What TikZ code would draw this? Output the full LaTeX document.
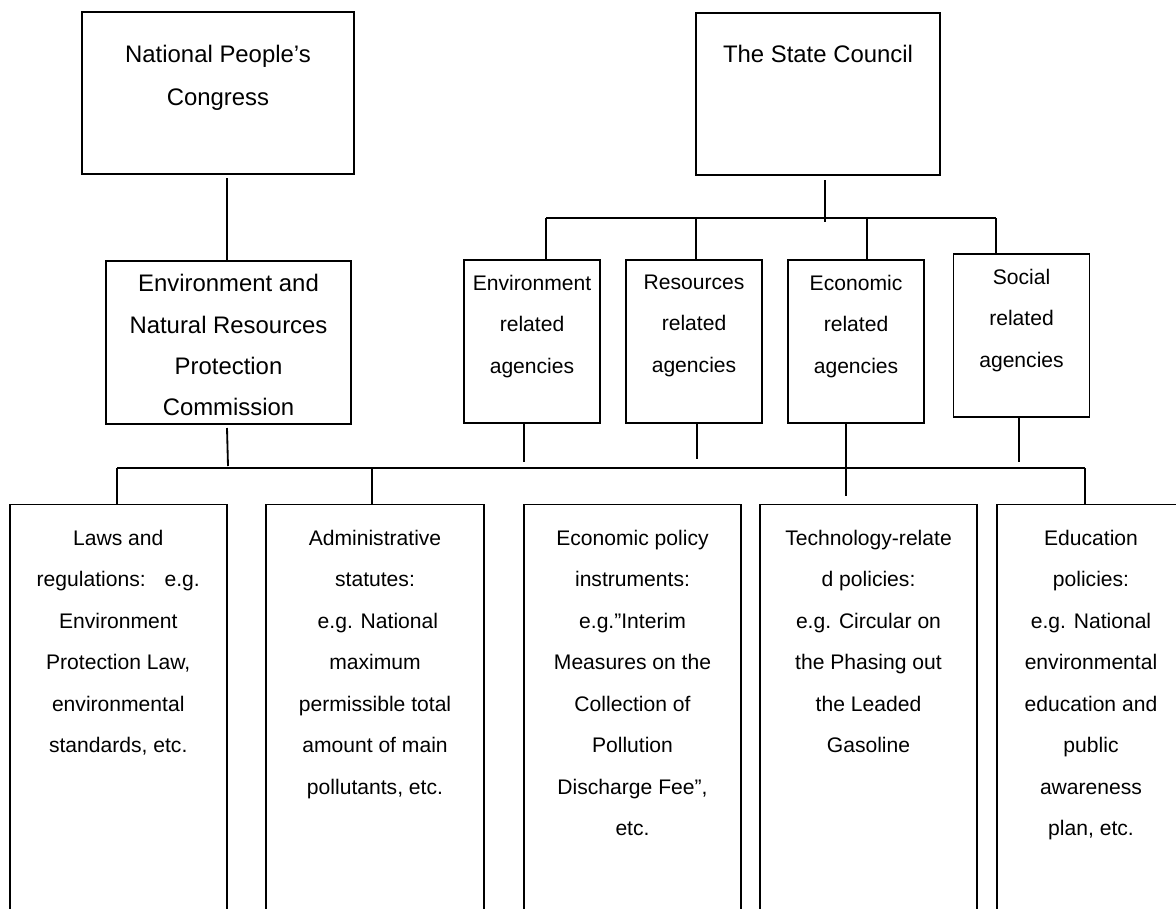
\documentclass[tikz,border=0pt]{standalone}
\usepackage{fontspec}
\setmainfont{Liberation Sans}
\usetikzlibrary{positioning}

\tikzset{
  box/.style={draw, line width=1.3pt, inner sep=0pt},
  agency/.style={box, minimum width=3.4cm, minimum height=4.075cm},
  policy/.style={box, minimum width=5.43cm, minimum height=10.9cm},
  txt/.style={align=center, inner sep=0pt, anchor=north},
  bigtxt/.style={txt, font=\fontsize{17pt}{30.5pt}\selectfont},
  smalltxt/.style={txt, font=\fontsize{15pt}{29.5pt}\selectfont},
}

\begin{document}
\begin{tikzpicture}[x=0.025cm,y=-0.025cm,line width=1.3pt]
  \useasboundingbox (0,0) rectangle (1176,908);
  \clip (0,0) rectangle (1176,908);

  % top level
  \node[box, minimum width=6.8cm, minimum height=4.05cm] (npc) at (218,93) {};
  \node[bigtxt] (npctext) at (218,44) {National People’s\\Congress};
  \node[box, minimum width=6.1cm, minimum height=4.05cm] (sc) at (818,94) {};
  \node[bigtxt] (sctext) at (818,44) {The State Council};

  % second level
  \node[box, minimum width=6.125cm, minimum height=4.075cm] (enr) at (228.5,342.5) {};
  \node[bigtxt, font=\fontsize{17pt}{29.4pt}\selectfont] (enrtext) at (228.5,273.5) {Environment and\\Natural Resources\\Protection\\Commission};
  \foreach \n/\x/\y/\t in {env/532/341.5/Environment, res/694/341.5/Resources,
                           eco/856/341.5/Economic, soc/1021.5/335.5/Social}{
    \node[agency] (\n) at (\x,\y) {};
    \node[smalltxt] (\n text) at (\x,\y-67.5) {\t\\related\\agencies};
  }

  % policy boxes
  \node[policy] (law) at (118.25,722.5) {};
  \node[smalltxt] (lawtext) at (118.25,529) {Laws and\\regulations:\hspace{0.9em}e.g.\\Environment\\Protection Law,\\environmental\\standards, etc.};
  \node[policy] (adm) at (375,722.5) {};
  \node[smalltxt] (admtext) at (375,529) {Administrative\\statutes:\\\ e.g. National\\maximum\\permissible total\\amount of main\\pollutants, etc.};
  \node[policy] (econpol) at (632.5,722.5) {};
  \node[smalltxt] (econpoltext) at (632.5,529) {Economic policy\\instruments:\\e.g.”Interim\\Measures on the\\Collection of\\Pollution\\Discharge Fee”,\\etc.};
  \node[policy] (tech) at (868.5,722.5) {};
  \node[smalltxt] (techtext) at (868.5,529) {Technology-relate\\d policies:\\e.g. Circular on\\the Phasing out\\the Leaded\\Gasoline};
  \node[policy, minimum width=4.7cm] (edu) at (1091,722.5) {};
  \node[smalltxt] (edutext) at (1091,529) {Education\\policies:\\e.g. National\\environmental\\education and\\public\\awareness\\plan, etc.};

  % connectors, upper part
  \coordinate (npcdown) at (227,178);
  \draw (npcdown) -- (npcdown |- enr.north);
  \coordinate (scdown) at (825,180);
  \coordinate (scjoin) at (825,222);
  \draw (scdown) -- (scjoin);
  \foreach \n/\x in {env/546,res/696,eco/867,soc/996}{
    \coordinate (top\n) at (\x,218);
    \draw (top\n) -- (top\n |- \n.north);
  }
  \draw (topenv) -- (topsoc);

  % connectors, lower part
  \coordinate (enrdown) at (227,428);
  \coordinate (enrjoin) at (228,466);
  \draw (enrdown) -- (enrjoin);
  \foreach \n/\x/\e in {env/524/462,res/697/459,eco/846/496,soc/1019/462}{
    \coordinate (end\n) at (\x,\e);
    \draw (end\n |- \n.south) -- (end\n);
  }
  \coordinate (botleft) at (117,468);
  \coordinate (botright) at (1085,468);
  \coordinate (botadm) at (372,468);
  \draw (botleft) -- (botright);
  \draw (botleft) -- (botleft |- law.north);
  \draw (botadm) -- (botadm |- adm.north);
  \draw (botright) -- (botright |- edu.north);
\end{tikzpicture}
\end{document}
